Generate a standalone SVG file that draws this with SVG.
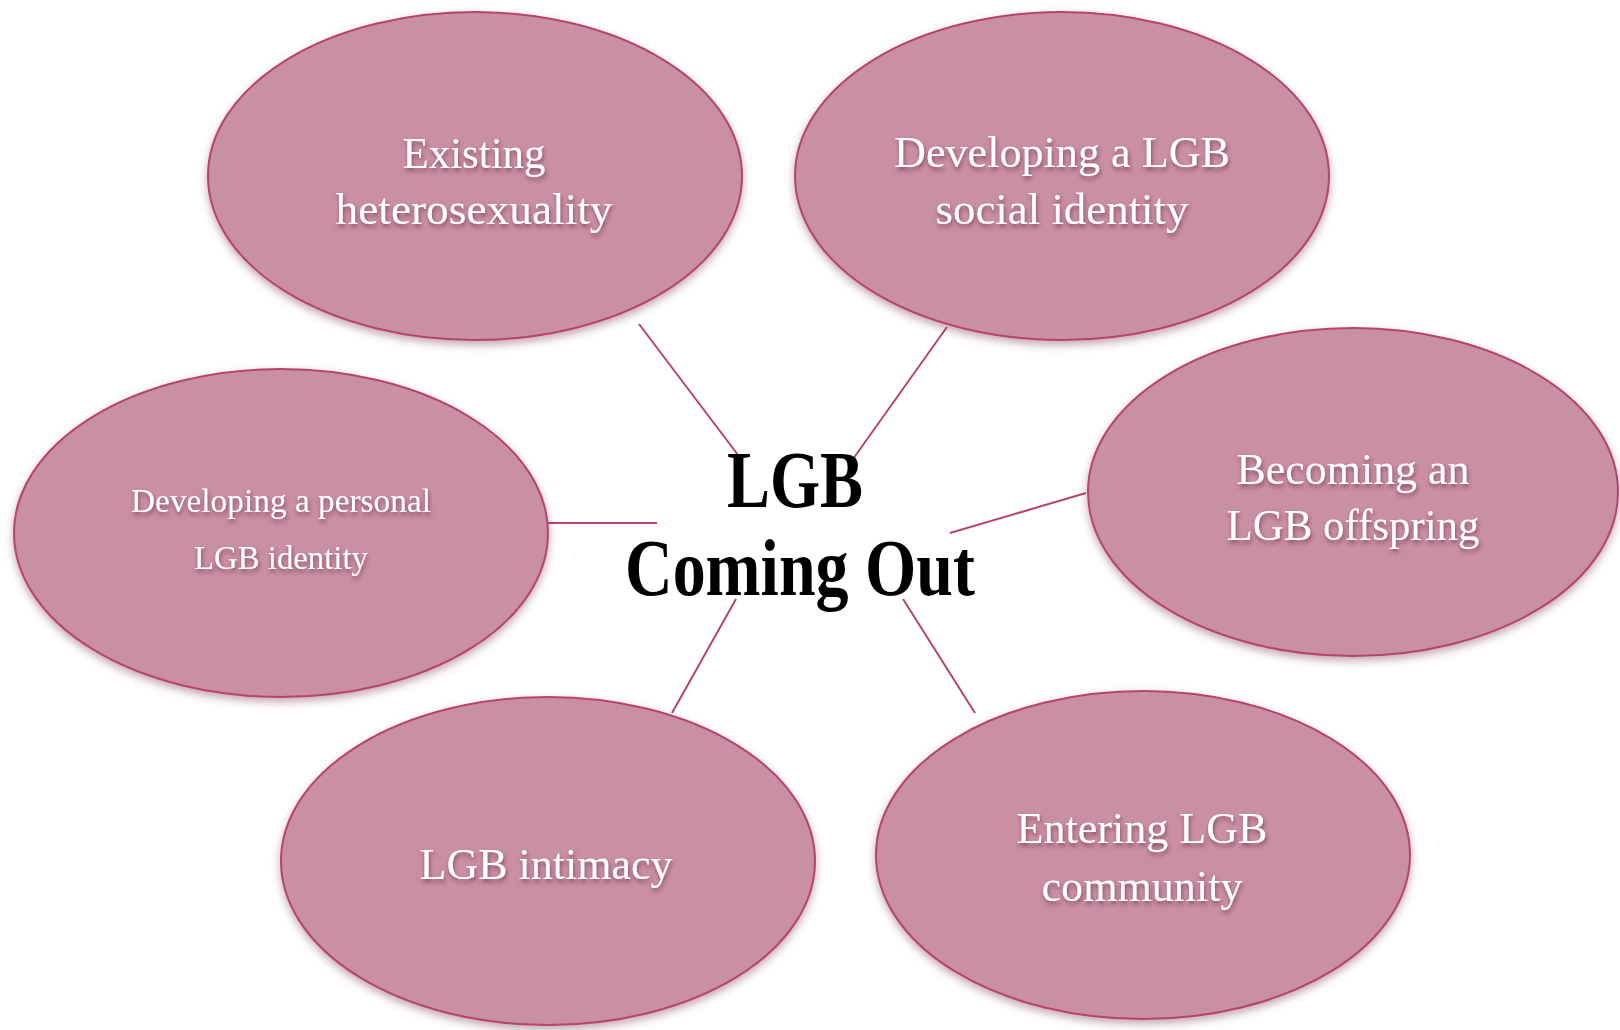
<svg xmlns="http://www.w3.org/2000/svg" width="1620" height="1030" viewBox="0 0 1620 1030">
  <defs>
    <filter id="shade" x="-10%" y="-10%" width="120%" height="125%">
      <feGaussianBlur in="SourceAlpha" stdDeviation="4"/>
      <feOffset dx="0" dy="4" result="b"/>
      <feFlood flood-color="#7a3a55" flood-opacity="0.45"/>
      <feComposite in2="b" operator="in"/>
      <feMerge><feMergeNode/><feMergeNode in="SourceGraphic"/></feMerge>
    </filter>
    <filter id="tshade" x="-10%" y="-30%" width="120%" height="160%">
      <feGaussianBlur in="SourceAlpha" stdDeviation="2"/>
      <feOffset dx="1" dy="3" result="b"/>
      <feFlood flood-color="#5a2038" flood-opacity="0.6"/>
      <feComposite in2="b" operator="in"/>
      <feMerge><feMergeNode/><feMergeNode in="SourceGraphic"/></feMerge>
    </filter>
  </defs>
  <style>
    .bubble { fill: #c98fa3; stroke: #b8436f; stroke-width: 2; filter: url(#shade); }
    .lbl { fill: #ffffff; font-family: "Liberation Serif", "DejaVu Serif", serif; font-size: 44px; text-anchor: middle; filter: url(#tshade); }
    .small { font-size: 34px; }
    .link { stroke: #b8436f; stroke-width: 2; fill: none; }
    .hub { fill: #000000; font-family: "Liberation Serif", "DejaVu Serif", serif; font-weight: bold; font-size: 80px; text-anchor: middle; }
  </style>
  <rect width="1620" height="1030" fill="#ffffff"/>

  <g id="connectors">
    <line class="link" x1="639" y1="324" x2="738" y2="455"/>
    <line class="link" x1="947" y1="327" x2="853" y2="459"/>
    <line class="link" x1="548" y1="523" x2="657" y2="523"/>
    <line class="link" x1="1086" y1="493" x2="950" y2="533"/>
    <line class="link" x1="736" y1="599" x2="672" y2="713"/>
    <line class="link" x1="903" y1="599" x2="975" y2="713"/>
  </g>

  <g id="node-existing">
    <ellipse class="bubble" cx="475" cy="176" rx="267" ry="164"/>
    <text class="lbl" x="474" y="168" textLength="143" lengthAdjust="spacingAndGlyphs">Existing</text>
    <text class="lbl" x="474" y="224" textLength="277" lengthAdjust="spacingAndGlyphs">heterosexuality</text>
  </g>

  <g id="node-social">
    <ellipse class="bubble" cx="1062" cy="176" rx="267" ry="164"/>
    <text class="lbl" x="1062" y="167" textLength="336" lengthAdjust="spacingAndGlyphs">Developing a LGB</text>
    <text class="lbl" x="1062" y="224" textLength="253" lengthAdjust="spacingAndGlyphs">social identity</text>
  </g>

  <g id="node-offspring">
    <ellipse class="bubble" cx="1353" cy="492" rx="265" ry="164"/>
    <text class="lbl" x="1353" y="484" textLength="233" lengthAdjust="spacingAndGlyphs">Becoming an</text>
    <text class="lbl" x="1353" y="540" textLength="253" lengthAdjust="spacingAndGlyphs">LGB offspring</text>
  </g>

  <g id="node-personal">
    <ellipse class="bubble" cx="281" cy="533" rx="267" ry="164"/>
    <text class="lbl small" x="281" y="512" textLength="300" lengthAdjust="spacingAndGlyphs">Developing a personal</text>
    <text class="lbl small" x="281" y="569" textLength="174" lengthAdjust="spacingAndGlyphs">LGB identity</text>
  </g>

  <g id="node-intimacy">
    <ellipse class="bubble" cx="548" cy="861" rx="267" ry="164"/>
    <text class="lbl" x="546" y="879" textLength="253" lengthAdjust="spacingAndGlyphs">LGB intimacy</text>
  </g>

  <g id="node-community">
    <ellipse class="bubble" cx="1143" cy="855" rx="267" ry="164"/>
    <text class="lbl" x="1142" y="843" textLength="251" lengthAdjust="spacingAndGlyphs">Entering LGB</text>
    <text class="lbl" x="1142" y="901" textLength="201" lengthAdjust="spacingAndGlyphs">community</text>
  </g>

  <g id="node-hub">
    <text class="hub" x="795" y="507" textLength="136" lengthAdjust="spacingAndGlyphs">LGB</text>
    <text class="hub" x="800" y="595" textLength="350" lengthAdjust="spacingAndGlyphs">Coming Out</text>
  </g>
</svg>
